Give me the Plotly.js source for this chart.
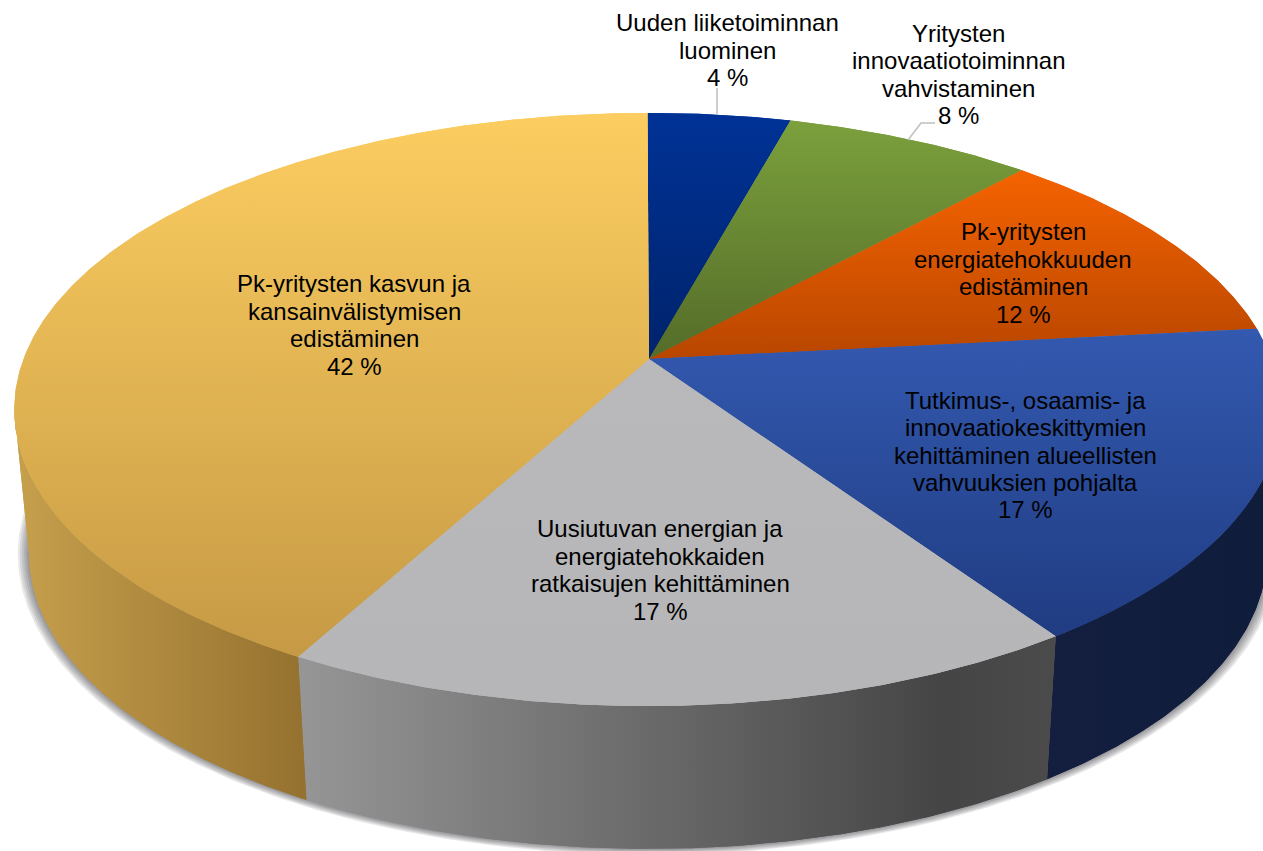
<!DOCTYPE html>
<html>
<head>
<meta charset="utf-8">
<script src="https://cdn.plot.ly/plotly-3.0.1.min.js"></script>
<style>html,body{margin:0;padding:0;background:#fff;overflow:hidden}</style>
</head>
<body>
<div id="chart" style="width:1263px;height:851px"></div>
<script>
// Data (clockwise from 12 o'clock)
const names = [
  ["Uuden liiketoiminnan", "luominen"],
  ["Yritysten", "innovaatiotoiminnan", "vahvistaminen"],
  ["Pk-yritysten", "energiatehokkuuden", "edistäminen"],
  ["Tutkimus-, osaamis- ja", "innovaatiokeskittymien", "kehittäminen alueellisten", "vahvuuksien pohjalta"],
  ["Uusiutuvan energian ja", "energiatehokkaiden", "ratkaisujen kehittäminen"],
  ["Pk-yritysten kasvun ja", "kansainvälistymisen", "edistäminen"]
];
const shares = [4.3, 7.5, 11.5, 17.2, 17.4, 42.1];

// Styles
const topColors = [
  ["#003296", "#00236b"], ["#7ba03c", "#546c29"], ["#f56300", "#b84600"],
  ["#3359b0", "#203c82"], ["#b9b9bb", "#b6b6b8"], ["#fccd60", "#c69a45"]
];
const wallColors = [null, null, null,
  [[0, "#141f40"], [1, "#0f1c3a"]],
  [[0, "#969696"], [0.85, "#454545"], [1, "#4b4b4b"]],
  [[0, "#c6a04c"], [1, "#957130"]]
];
const labelPos = [[727, 50], [958, 74.5], [1023, 273], [1025, 455], [660, 570], [354, 325]];
const LINE_STEP = 27.4;
const leaders = [[[717, 88], [717, 115]], [[935, 123], [921, 123], [908, 140]]];

// Perspective projection of the pie's circle onto the picture
const APEX_X = 649, K = 0.1702;
const upper = {cx: 647.5, y0: 359, ax: 624, by: 288};
const lower = {cx: 648, y0: 503, ax: 610, by: 287};
function project(frac, p, gx, gy) {
  const t = frac * 2 * Math.PI, u = Math.sin(t), v = Math.cos(t), w = 1 + K * v;
  return [p.cx + (p.ax + (gx || 0)) * u / w, p.y0 - (p.by + (gy || 0)) * v / w];
}
function arc(f0, f1, p, gx, gy) {
  const n = Math.max(2, Math.ceil((f1 - f0) * 720)), pts = [];
  for (let i = 0; i <= n; i++) pts.push(project(f0 + (f1 - f0) * i / n, p, gx, gy));
  return pts;
}
function poly(pts, extra) {
  return Object.assign({
    type: "scatter", mode: "lines", hoverinfo: "skip", showlegend: false,
    x: pts.map(q => q[0]), y: pts.map(q => q[1]), fill: "toself", line: {width: 0}
  }, extra);
}

const total = shares.reduce((a, b) => a + b, 0);
const bounds = [0];
shares.forEach(s => bounds.push(bounds[bounds.length - 1] + s / total));
// silhouette of the drum: where the rim's x-extent turns back
const sil = Math.acos(-K) / (2 * Math.PI);

const traces = [];
// soft shadow beneath the lower rim
[11, 9, 7, 5, 3, 1.5].forEach(g => {
  traces.push(poly(arc(0, 1, lower, g, g * 0.45), {fillcolor: "rgba(80,80,85,0.13)"}));
});
// side walls
shares.forEach((s, i) => {
  if (!wallColors[i]) return;
  const f0 = Math.max(bounds[i], sil), f1 = Math.min(bounds[i + 1], 1 - sil);
  const pts = arc(f0, f1, upper).concat(arc(f0, f1, lower).reverse());
  const xs = pts.map(q => q[0]);
  const tr = poly(pts, {
    fillgradient: {type: "horizontal", colorscale: wallColors[i],
      start: Math.min(...xs), stop: Math.max(...xs)}
  });
  traces.push(tr, tr);
});
// top faces
shares.forEach((s, i) => {
  const pts = [[APEX_X, upper.y0]].concat(arc(bounds[i], bounds[i + 1], upper), [[APEX_X, upper.y0]]);
  const ys = pts.map(q => q[1]);
  const tr = poly(pts, {
    fillgradient: {type: "vertical",
      colorscale: [[0, topColors[i][0]], [1, topColors[i][1]]],
      start: Math.min(...ys), stop: Math.max(...ys)}
  });
  traces.push(tr, tr);
});
// leader lines
leaders.forEach(l => traces.push({
  type: "scatter", mode: "lines", hoverinfo: "skip", showlegend: false,
  x: l.map(q => q[0]), y: l.map(q => q[1]), line: {color: "#bfbfbf", width: 1.5}
}));

const annotations = [];
shares.forEach((s, i) => {
  const lines = names[i].concat([Math.round(s) + " %"]);
  lines.forEach((txt, j) => annotations.push({
    x: labelPos[i][0], y: labelPos[i][1] + (j - (lines.length - 1) / 2) * LINE_STEP,
    xref: "x", yref: "y", text: txt,
    showarrow: false, xanchor: "center", yanchor: "middle", align: "center",
    font: {family: "Liberation Sans, Arial, sans-serif", size: 24, color: "#000"}
  }));
});

const axis = {visible: false, fixedrange: true, showgrid: false, zeroline: false};
Plotly.newPlot("chart", traces, {
  width: 1263, height: 851,
  margin: {l: 0, r: 0, t: 0, b: 0},
  paper_bgcolor: "#fff", plot_bgcolor: "#fff",
  showlegend: false, hovermode: false,
  xaxis: Object.assign({range: [0, 1263]}, axis),
  yaxis: Object.assign({range: [851, 0]}, axis),
  annotations: annotations
}, {displayModeBar: false, staticPlot: true});
</script>
</body>
</html>
